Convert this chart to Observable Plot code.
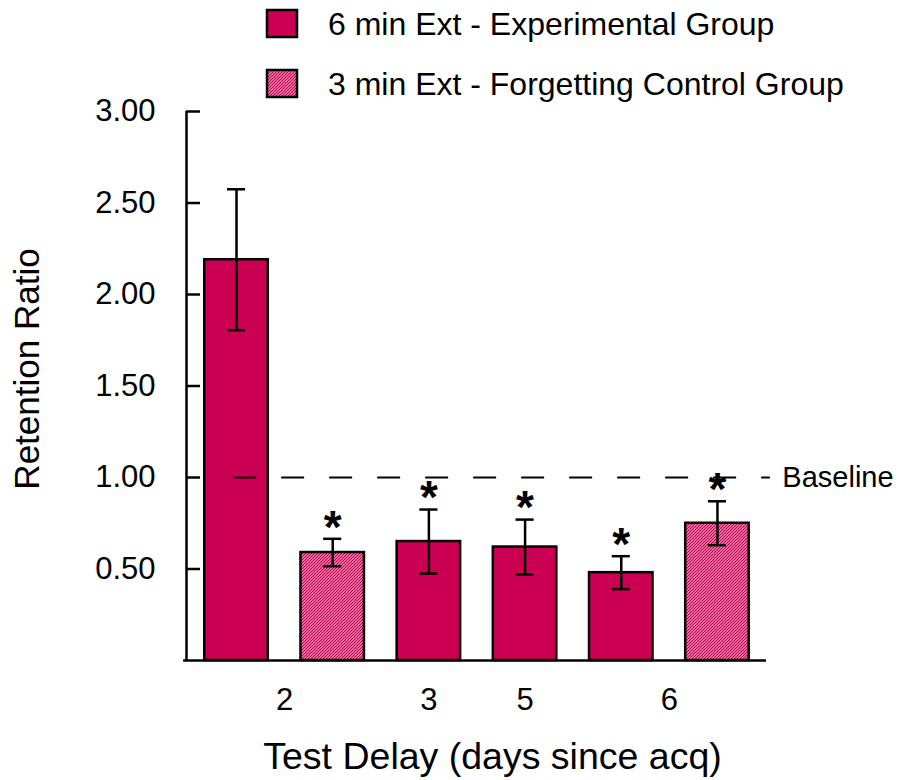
<!DOCTYPE html>
<html>
<head>
<meta charset="utf-8">
<script src="https://cdn.jsdelivr.net/npm/d3@7"></script>
<script src="https://cdn.jsdelivr.net/npm/@observablehq/plot@0.6"></script>
<style>
  body { margin: 0; background: #fff; font-family: "Liberation Sans", Arial, Helvetica, sans-serif; }
  #chart { width: 910px; height: 780px; position: relative; }
  #chart svg { display: block; overflow: visible; }
</style>
</head>
<body>
<div id="chart"></div>
<script>
// Retention ratio by test delay, one bar per group/delay combination
const delays      = ["2", "2", "3", "5", "6", "6"];
const groups      = ["exp", "ctrl", "exp", "exp", "exp", "ctrl"];
const means       = [2.19, 0.59, 0.65, 0.62, 0.48, 0.75];
const sems        = [0.385, 0.075, 0.175, 0.15, 0.09, 0.12];
const significant = [false, true, true, true, true, true];

const groupKeys   = ["exp", "ctrl"];
const groupLabels = ["6 min Ext - Experimental Group", "3 min Ext - Forgetting Control Group"];
const yTicks      = [0.5, 1.0, 1.5, 2.0, 2.5, 3.0];
const baseline    = 1.0;

const crimson = "#cc0052";
const font = "'Liberation Sans', Arial, Helvetica, sans-serif";

const bars = means.map((m, i) => ({
  pos: i + 1,
  delay: delays[i],
  group: groups[i],
  mean: m,
  lo: m - sems[i],
  hi: m + sems[i],
  sig: significant[i]
}));

// one x label per delay, centred under the bars that share it
const delayTicks = Array.from(d3.group(bars, d => d.delay), ([delay, bs]) => ({
  delay,
  pos: d3.mean(bs, d => d.pos)
}));

const xDomain = [0.48, 6.51];
const halfBar = 0.33;
const capHalf = 0.094;

const chart = d3.select("#chart");

// legend above the plot
const legend = chart.append("svg")
  .attr("width", 910)
  .attr("height", 100)
  .style("font-family", font)
  .style("position", "relative")
  .style("z-index", 1);

const defs = legend.append("defs");
const pat = defs.append("pattern")
  .attr("id", "hatch")
  .attr("patternUnits", "userSpaceOnUse")
  .attr("width", 3)
  .attr("height", 3);
pat.append("rect").attr("width", 3).attr("height", 3).attr("fill", "#f4c6d8");
pat.append("path")
  .attr("d", "M-1,1 l2,-2 M0,3 l3,-3 M2,4 l2,-2")
  .attr("stroke", crimson)
  .attr("stroke-width", 1.3);

const fillFor = g => g === "exp" ? crimson : "url(#hatch)";

groupKeys.forEach((g, i) => {
  const cy = 24 + 60 * i;
  legend.append("rect")
    .attr("x", 267).attr("y", cy - 14)
    .attr("width", 30).attr("height", 27)
    .attr("fill", fillFor(g))
    .attr("stroke", "#000").attr("stroke-width", 2.5);
  legend.append("text")
    .attr("x", 328).attr("y", cy)
    .attr("dy", "0.35em")
    .attr("font-size", 32)
    .attr("fill", "#000")
    .text(groupLabels[i]);
});

const plot = Plot.plot({
  width: 910,
  height: 680,
  marginTop: 11,
  marginBottom: 120,
  marginLeft: 186,
  marginRight: 144,
  style: { fontFamily: font, color: "#000", background: "transparent", overflow: "visible" },
  x: { domain: xDomain, axis: null },
  y: { domain: [0, 3], axis: null },
  marks: [
    Plot.axisY({
      ticks: yTicks,
      tickFormat: d3.format(".2f"),
      tickSize: -14,
      tickPadding: 45,
      strokeWidth: 2.5,
      fontSize: 31,
      label: null
    }),
    // bars
    Plot.rect(bars.filter(d => d.group === "exp"), {
      x1: d => d.pos - halfBar, x2: d => d.pos + halfBar, y1: 0, y2: "mean",
      fill: crimson, stroke: "#000", strokeWidth: 2.5
    }),
    Plot.rect(bars.filter(d => d.group === "ctrl"), {
      x1: d => d.pos - halfBar, x2: d => d.pos + halfBar, y1: 0, y2: "mean",
      fill: "url(#hatch)", stroke: "#000", strokeWidth: 2.5
    }),
    // axis lines
    Plot.ruleX([xDomain[0]], { y1: 0, y2: 3, strokeWidth: 2.5 }),
    Plot.ruleY([0], { x1: xDomain[0] - 0.03, x2: xDomain[1], strokeWidth: 2.5 }),
    // error bars
    Plot.ruleX(bars, { x: "pos", y1: "lo", y2: "hi", strokeWidth: 2.5 }),
    Plot.ruleY(bars, { y: "hi", x1: d => d.pos - capHalf, x2: d => d.pos + capHalf, strokeWidth: 2.5 }),
    Plot.ruleY(bars, { y: "lo", x1: d => d.pos - capHalf, x2: d => d.pos + capHalf, strokeWidth: 2.5 }),
    // baseline reference
    Plot.ruleY([baseline], { x1: bars[0].pos - 0.03, x2: 6.55, strokeDasharray: "23,25", strokeWidth: 2 }),
    Plot.text([baseline], { x: 6.55, y: d => d, text: () => "Baseline", textAnchor: "start", dx: 12, fontSize: 29 }),
    // significance stars
    Plot.text(bars.filter(d => d.sig), { x: "pos", y: "hi", text: () => "*", dy: -11, fontSize: 46, fontWeight: "bold" }),
    // x tick labels
    Plot.text(delayTicks, { x: "pos", y: () => 0, text: "delay", dy: 40, fontSize: 31 }),
    // axis titles
    Plot.text(["Test Delay (days since acq)"], {
      frameAnchor: "bottom", lineAnchor: "middle", textAnchor: "middle",
      text: d => d, dx: 16, dy: 96, fontSize: 37.5
    }),
    Plot.text(["Retention Ratio"], {
      frameAnchor: "left", lineAnchor: "middle", textAnchor: "middle",
      text: d => d, rotate: -90, dx: -159, dy: -17, fontSize: 35
    })
  ]
});

chart.node().appendChild(plot);
</script>
</body>
</html>
